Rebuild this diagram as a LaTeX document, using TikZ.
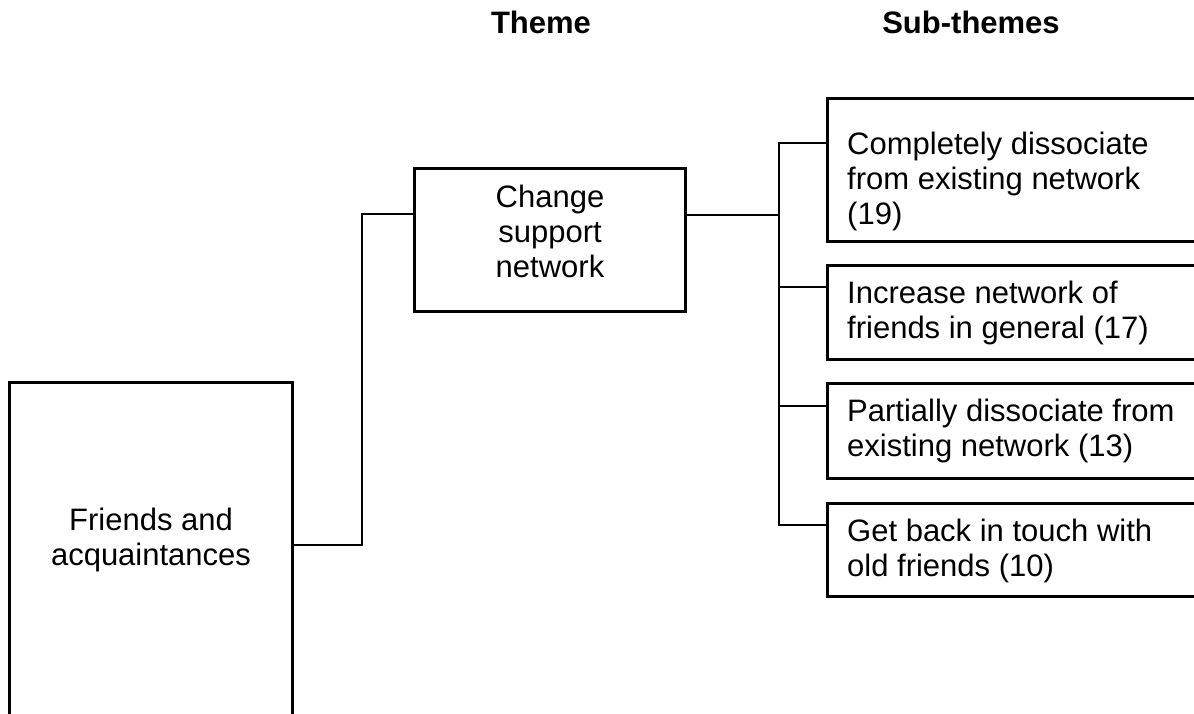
\documentclass[tikz,border=0pt]{standalone}
\usepackage{fontspec}
\setmainfont{Liberation Sans}
\begin{document}
\begin{tikzpicture}[x=1pt,y=-1pt,
  frame/.style={draw, line width=2.8pt, inner sep=0pt, anchor=north west},
  label/.style={inner sep=0pt, font=\fontsize{31}{35}\selectfont},
  head/.style={inner sep=0pt, anchor=base, font=\fontsize{31}{35}\selectfont\bfseries},
  link/.style={line width=2.8pt, line join=miter}]
\useasboundingbox (0,0) rectangle (1194,713);
\clip (0,0) rectangle (1194,713);

% column headings
\node[head] (hTheme) at (541,33) {Theme};
\node[head] (hSub) at (971,33) {Sub-themes};

% main category, open at the lower edge
\node[frame, minimum width=283pt, minimum height=420pt] (lb) at (8,381) {};
\node[label, align=center, anchor=base] (lbt) at (151,565) {Friends and\\acquaintances};

% theme
\node[frame, minimum width=271pt, minimum height=143pt] (mid) at (413,167) {};
\node[label, align=center, anchor=base] (midt) at (550,277) {Change\\support\\network};

% sub-themes, running off the right edge
\node[frame, minimum width=420pt, minimum height=143pt] (s1) at (826,97) {};
\node[frame, minimum width=420pt, minimum height=94pt] (s2) at (826,264) {};
\node[frame, minimum width=420pt, minimum height=95pt] (s3) at (826,382) {};
\node[frame, minimum width=420pt, minimum height=93pt] (s4) at (826,502) {};
\node[label, align=left, anchor=base west] (s1t) at (847,224) {Completely dissociate\\from existing network\\(19)};
\node[label, align=left, anchor=base west] (s2t) at (847,338) {Increase network of\\friends in general (17)};
\node[label, align=left, anchor=base west] (s3t) at (847,456) {Partially dissociate from\\existing network (13)};
\node[label, align=left, anchor=base west] (s4t) at (847,576) {Get back in touch with\\old friends (10)};

% elbow and trunk points
\coordinate (e1) at (362,545);
\coordinate (e2) at (362,214);
\coordinate (tk) at (779,215);
\coordinate (t1) at (779,143);
\coordinate (t2) at (779,287);
\coordinate (t3) at (779,406);
\coordinate (t4) at (779,525);

% connectors
\draw[link] (lb.east |- e1) -| (e2) -- (mid.west |- e2);
\draw[link] (mid.east |- tk) -- (tk);
\draw[link] (s1.west |- t1) -- (t1) -- (t4) -- (s4.west |- t4);
\draw[link] (t2) -- (s2.west |- t2);
\draw[link] (t3) -- (s3.west |- t3);
\end{tikzpicture}
\end{document}
